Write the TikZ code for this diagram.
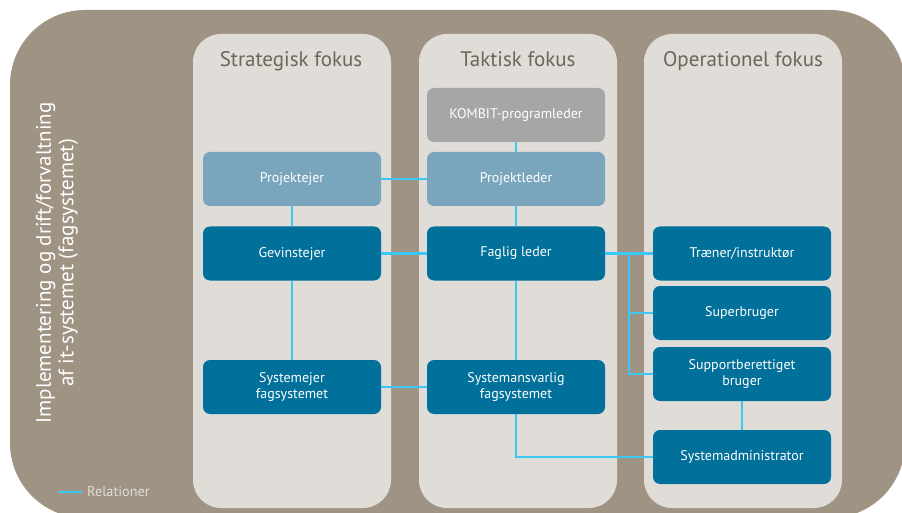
\documentclass[tikz,border=0pt]{standalone}
\usepackage{fontspec}
\setmainfont{PT Sans}
\definecolor{bgbrown}{HTML}{9F9383}
\definecolor{panel}{HTML}{E0DDD8}
\definecolor{titlec}{HTML}{6E655B}
\definecolor{teal}{HTML}{01709A}
\definecolor{lblue}{HTML}{7AA6BD}
\definecolor{kgray}{HTML}{A6A6A6}
\definecolor{relc}{HTML}{3CC8F5}
\tikzset{
  panelbox/.style={fill=panel, draw=none, rounded corners=28pt, minimum width=198pt, minimum height=474pt},
  coltitle/.style={text=titlec, anchor=base, font=\fontsize{21}{25}\selectfont},
  rolebox/.style={draw=none, rounded corners=7pt, minimum width=178pt, minimum height=54pt, text=white, align=center, font=\fontsize{14}{16.5}\selectfont},
  darkbox/.style={rolebox, fill=teal},
  lightbox/.style={rolebox, fill=lblue},
  graybox/.style={rolebox, fill=kgray},
  rel/.style={draw=relc, line width=2.4pt},
}
\begin{document}
\begin{tikzpicture}[x=1pt,y=-1pt]
\useasboundingbox (0,0) rectangle (902,513);
\begin{scope}
\clip (0,0) rectangle (902,513);
\fill[white] (0,0) rectangle (902,513);
\fill[bgbrown, rounded corners=75pt] (10,10) rectangle (905,518);
\end{scope}
% panels
\node[panelbox] (p1) at (292,271) {};
\node[panelbox] (p2) at (518,271) {};
\node[panelbox] (p3) at (743,271) {};
\node[coltitle] (t1) at (291,67) {Strategisk fokus};
\node[coltitle] (t2) at (518,67) {Taktisk fokus};
\node[coltitle] (t3) at (743,67) {Operationel fokus};
% side label
\node[rotate=90, align=center, text=white, font=\fontsize{21}{22.5}\selectfont] (side) at (57,263) {Implementering og drift/forvaltning\\af it-systemet (fagsystemet)};
% boxes
\node[graybox] (km) at (516,115) {KOMBIT-programleder};
\node[lightbox] (pe) at (292,179) {Projektejer};
\node[lightbox] (pl) at (516,179) {Projektleder};
\node[darkbox] (ge) at (292,253.5) {Gevinstejer};
\node[darkbox] (fl) at (516,253.5) {Faglig leder};
\node[darkbox] (se) at (292,387) {Systemejer\\fagsystemet};
\node[darkbox] (sa) at (516,387) {Systemansvarlig\\fagsystemet};
\node[darkbox] (tr) at (742,253.5) {Træner/instruktør};
\node[darkbox] (sb) at (742,313) {Superbruger};
\node[darkbox] (sp) at (742,374) {Supportberettiget\\bruger};
\node[darkbox] (ad) at (742,457) {Systemadministrator};
% relations
\draw[rel] (pe) -- (pl);
\draw[rel] (km) -- (pl);
\draw[rel] (pe) -- (ge);
\draw[rel] (pl) -- (fl);
\draw[rel] (ge) -- (fl);
\draw[rel] (ge) -- (se);
\draw[rel] (fl) -- (sa);
\draw[rel] (se) -- (sa);
\draw[rel] (fl) -- (tr);
\coordinate (br) at (629,253.5);
\draw[rel] (br) |- (sb.west);
\draw[rel] (br) |- (sp.west);
\draw[rel] (sp) -- (ad);
\draw[rel] (sa.south) |- (ad.west);
% legend
\coordinate (l1) at (58,492);
\coordinate (l2) at (82,492);
\draw[rel] (l1) -- (l2);
\node[anchor=west, text=panel, font=\fontsize{14.3}{17}\selectfont, inner sep=2pt] (leg) at (85,492) {Relationer};
\end{tikzpicture}
\end{document}
